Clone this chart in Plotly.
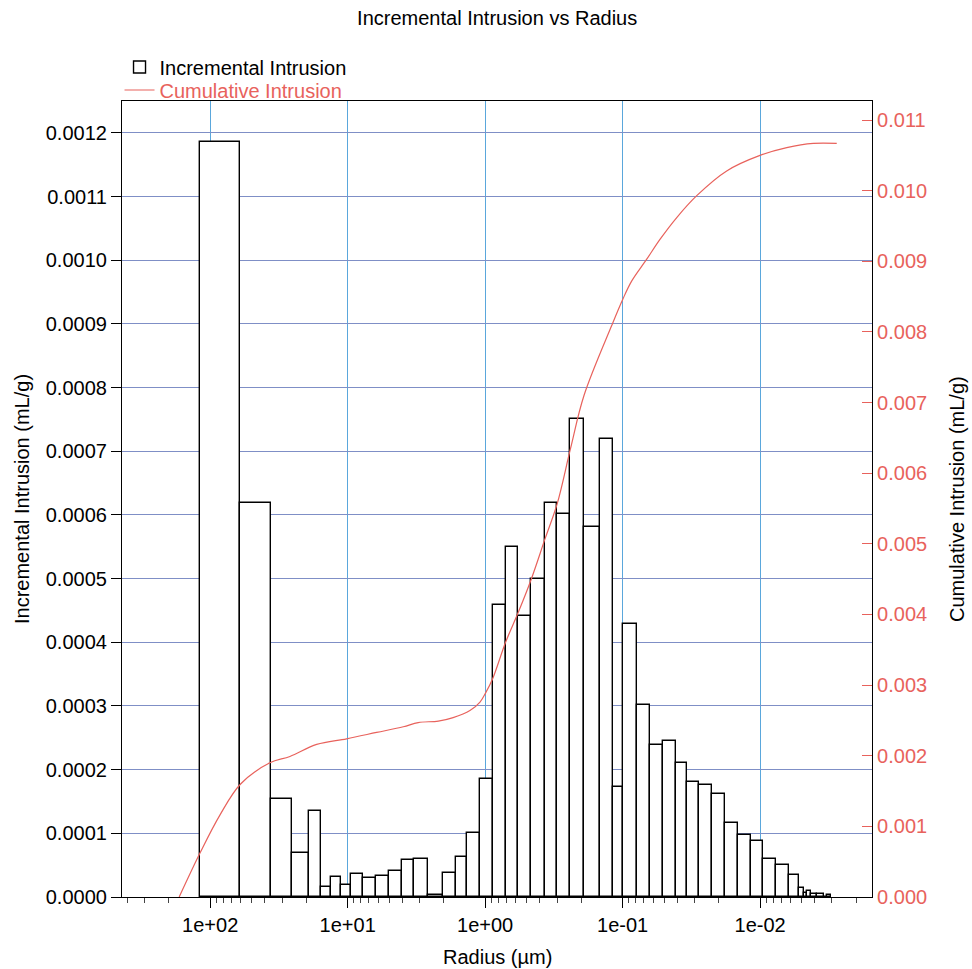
import numpy as np
import plotly.graph_objects as go

# ---- data ----
# bar boundaries, radius in µm (decreasing)
radius_edges_um = [117.8, 60.3, 35.9, 25.4, 19.0, 15.6, 13.3, 11.25, 9.52, 7.71,
                   6.23, 5.04, 4.03, 3.30, 2.61, 2.02, 1.63, 1.35, 1.09, 0.882,
                   0.709, 0.577, 0.462, 0.367, 0.299, 0.240, 0.191, 0.1454, 0.1181, 0.0989,
                   0.0790, 0.0632, 0.0511, 0.0409, 0.0339, 0.0277, 0.0223, 0.0179, 0.01455, 0.01170,
                   0.00948, 0.00766, 0.00616, 0.00521, 0.00479, 0.00458, 0.00426, 0.00388, 0.00343, 0.00326,
                   0.00305]
# incremental intrusion per bar, mL/g
incremental_mL_g = [0.001185, 0.000618, 0.000154, 0.0000686, 0.0001345, 0.0000152, 0.0000314, 0.0000188, 0.0000356, 0.0000293,
                    0.0000335, 0.0000403, 0.0000576, 0.0000597, 0.0000037, 0.0000382, 0.0000633, 0.0001005, 0.000186, 0.000458,
                    0.000550, 0.000441, 0.000500, 0.000618, 0.000601, 0.000751, 0.000581, 0.000720, 0.000172, 0.000428,
                    0.000302, 0.000238, 0.000245, 0.000210, 0.000180, 0.000176, 0.000162, 0.000116, 0.0000974, 0.0000874,
                    0.0000592, 0.0000508, 0.0000341, 0.0000137, 0.0000063, 0.0000089, 0.0000047, 0.0000047, 0.0, 0.000003]

# cumulative intrusion curve
cum_radius_um = [168.1, 117.4, 85.0, 60.1, 36.8, 26.3, 16.8, 10.18, 6.16, 3.94,
                 3.07, 2.19, 1.71, 1.29, 1.09, 0.992, 0.882, 0.709, 0.577, 0.462,
                 0.367, 0.299, 0.240, 0.191, 0.1201, 0.0999, 0.0860, 0.0668, 0.0535, 0.0404,
                 0.0289, 0.0175, 0.01002, 0.00640, 0.00410, 0.00277]
cumulative_mL_g = [0.0, 0.00064, 0.00116, 0.0016, 0.0019, 0.00199, 0.00216, 0.00224, 0.00233, 0.00241,
                   0.00247, 0.00249, 0.00254, 0.00264, 0.00276, 0.00289, 0.00309, 0.00361, 0.00402, 0.0045,
                   0.00507, 0.00557, 0.00634, 0.00710, 0.00809, 0.00846, 0.00872, 0.00903, 0.00931, 0.00962,
                   0.00993, 0.01028, 0.0105, 0.01061, 0.01067, 0.01067]

x_tick_vals_um = [100, 10, 1, 0.1, 0.01]
x_tick_text = ["1e+02", "1e+01", "1e+00", "1e-01", "1e-02"]
x_range_um = [438.0, 0.001535]
y_left_range = [0, 0.00125]
y_right_range = [0, 0.01127]

# ---- derived ----
log_edges = np.log10(np.array(radius_edges_um))
bar_centers = (log_edges[:-1] + log_edges[1:]) / 2
bar_widths = np.abs(np.diff(log_edges))
cum_log_x = np.log10(np.array(cum_radius_um))

minor_vals = []
for e in range(-4, 3):
    for k in range(2, 10):
        minor_vals.append(np.log10(k * 10.0 ** e))

RED = "#e8625c"
FONT = "Liberation Sans, Arial, sans-serif"
FS = 20

fig = go.Figure()
fig.add_trace(go.Bar(
    x=bar_centers, y=incremental_mL_g, width=bar_widths,
    marker=dict(color="white", line=dict(color="black", width=1.4)),
    name="Incremental Intrusion", yaxis="y", legend="legend"))
fig.add_trace(go.Scatter(
    x=cum_log_x, y=cumulative_mL_g, mode="lines",
    line=dict(color=RED, width=1.2, shape="spline", smoothing=1.0),
    name="Cumulative Intrusion", yaxis="y2", legend="legend2"))

fig.update_layout(
    width=972, height=969,
    margin=dict(l=122, r=100, t=101, b=72),
    paper_bgcolor="white", plot_bgcolor="white",
    font=dict(family=FONT, size=FS, color="black"),
    title=dict(text="Incremental Intrusion vs Radius", x=0.5115, xanchor="center", y=0.9814, yanchor="middle",
               font=dict(size=FS)),
    showlegend=True,
    legend=dict(x=-0.0033, xanchor="left", y=1.0427, yanchor="middle",
                font=dict(size=FS, color="black"), itemwidth=30, bgcolor="rgba(0,0,0,0)"),
    legend2=dict(x=-0.0033, xanchor="left", y=1.0138, yanchor="middle",
                 font=dict(size=FS, color=RED), itemwidth=30, bgcolor="rgba(0,0,0,0)"),
    bargap=0,
    xaxis=dict(
        type="linear", range=[np.log10(x_range_um[0]), np.log10(x_range_um[1])],
        tickmode="array", tickvals=np.log10(x_tick_vals_um), ticktext=x_tick_text,
        ticks="outside", ticklen=10, tickcolor="black", tickwidth=1,
        minor=dict(tickmode="array", tickvals=minor_vals, ticks="outside", ticklen=5, tickcolor="#444", showgrid=False),
        showgrid=True, gridcolor="#5aa7dc", gridwidth=1,
        showline=True, linecolor="black", linewidth=1.2, mirror=True,
        zeroline=False, tickfont=dict(size=FS)),
    yaxis=dict(
        range=y_left_range, dtick=0.0001, tick0=0, tickformat=".4f",
        ticks="outside", ticklen=10, tickcolor="black",
        showgrid=True, gridcolor="#7f8fc6", gridwidth=1,
        showline=True, linecolor="black", linewidth=1.2,
        zeroline=False, tickfont=dict(size=FS)),
    yaxis2=dict(
        range=y_right_range, dtick=0.001, tick0=0, tickformat=".3f",
        overlaying="y", side="right",
        ticks="inside", ticklen=10, tickcolor=RED,
        showgrid=False, showline=True, linecolor="black", linewidth=1.2,
        zeroline=False, tickfont=dict(size=FS, color=RED)),
    annotations=[
        dict(text="Radius (µm)", xref="paper", yref="paper", x=0.5, y=-0.0754, xanchor="center", yanchor="middle",
             showarrow=False, font=dict(size=FS)),
        dict(text="Incremental Intrusion (mL/g)", xref="paper", yref="paper", x=-0.1333, y=0.5,
             xanchor="center", yanchor="middle", textangle=-90, showarrow=False, font=dict(size=FS)),
        dict(text="Cumulative Intrusion (mL/g)", xref="paper", yref="paper", x=1.1133, y=0.5,
             xanchor="center", yanchor="middle", textangle=-90, showarrow=False, font=dict(size=FS)),
    ],
)

# remove the default page margin so the 972x969 figure fills the window exactly
fig.write_html("out.html", config={"displayModeBar": False},
               post_script="document.body.style.margin='0';document.body.style.overflow='hidden';")
